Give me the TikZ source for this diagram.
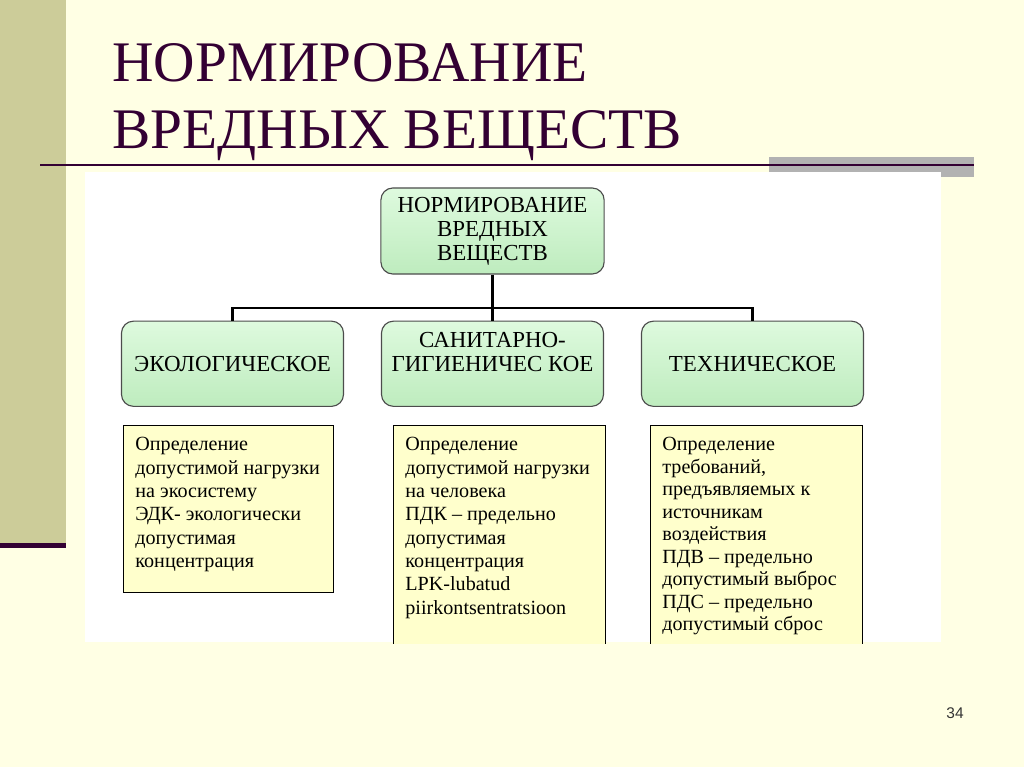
\documentclass[tikz,border=0pt]{standalone}
\usepackage{fontspec}
\setmainfont{Liberation Serif}
\newfontfamily\numfont{Liberation Sans}
\usetikzlibrary{positioning}
\definecolor{slidebg}{RGB}{255,255,228}
\definecolor{barolive}{RGB}{204,204,153}
\definecolor{titlepurple}{RGB}{51,0,51}
\definecolor{bargray}{RGB}{178,178,178}
\definecolor{gtop}{RGB}{222,250,222}
\definecolor{gbot}{RGB}{190,236,190}
\definecolor{boxyellow}{RGB}{255,255,204}

\begin{document}
\begin{tikzpicture}[x=0.025cm,y=-0.025cm,node distance=1.15cm and 0.92cm,
    gbox/.style={draw=black!70,line width=0.8pt,rounded corners=0.3cm,top color=gtop,bottom color=gbot,
      minimum width=5.55cm,minimum height=2.13cm,align=center,inner sep=2pt,
      font=\fontsize{16.3}{17}\selectfont},
    ybox/.style={draw=black,line width=0.6pt,fill=boxyellow,anchor=north west,inner sep=0.3cm},
    link/.style={line width=2pt}]
    \useasboundingbox (0,0) rectangle (1024,767);
    \fill[slidebg] (0,0) rectangle (1024,767);
    \fill[barolive] (0,0) rectangle (66,543);
    \fill[titlepurple] (0,543) rectangle (66,548);
    \fill[bargray] (769,157) rectangle (974,177);
    \fill[white] (85,172) rectangle (941,642);
    \draw[titlepurple,line width=1.6pt] (40,165) -- (974,165);
    \node[anchor=base west,inner sep=0,text=titlepurple,font=\fontsize{40.8}{48}\selectfont] (ttl1) at (112,82) {НОРМИРОВАНИЕ};
    \node[anchor=base west,inner sep=0,text=titlepurple,font=\fontsize{40.8}{48}\selectfont] (ttl2) at (112,149) {ВРЕДНЫХ ВЕЩЕСТВ};
    \node[gbox,minimum width=5.58cm,minimum height=2.15cm] (top) at (492.5,231) {НОРМИРОВАНИЕ\\ВРЕДНЫХ\\ВЕЩЕСТВ};
    \node[gbox,below=of top] (san) {САНИТАРНО-\\ГИГИЕНИЧЕС КОЕ\\\mbox{}};
    \node[gbox,left=of san] (eco) {ЭКОЛОГИЧЕСКОЕ};
    \node[gbox,right=of san] (tech) {ТЕХНИЧЕСКОЕ};
    \coordinate (bus) at (492.5,308);
    \draw[link] (top.south) -- (bus);
    \draw[link] (eco.north) |- (bus) -| (tech.north);
    \draw[link] (bus) -- (san.north);
    \begin{scope}
    \clip (85,172) rectangle (941,643);
    \node[ybox] (ecotxt) at (123,425) {\fontsize{14.3}{16.6}\selectfont\parbox[t][3.58cm][t]{4.65cm}{\raggedright
      Определение\\допустимой нагрузки\\на экосистему\\ЭДК- экологически\\допустимая\\концентрация}};
    \node[ybox] (santxt) at (393,425) {\fontsize{14.3}{16.6}\selectfont\parbox[t][5.0cm][t]{4.7cm}{\raggedright
      Определение\\допустимой нагрузки\\на человека\\ПДК -- предельно\\допустимая\\концентрация\\LPK-lubatud\\piirkontsentratsioon}};
    \node[ybox] (techtxt) at (650,425) {\fontsize{14.3}{16}\selectfont\parbox[t][5.0cm][t]{4.7cm}{\raggedright
      Определение\\требований,\\предъявляемых к\\источникам\\воздействия\\ПДВ -- предельно\\допустимый выброс\\ПДС -- предельно\\допустимый сброс}};
    \end{scope}
    \node[text=black!80,font=\numfont\fontsize{11}{13}\selectfont] (pagenum) at (955,713.5) {34};
\end{tikzpicture}
\end{document}
